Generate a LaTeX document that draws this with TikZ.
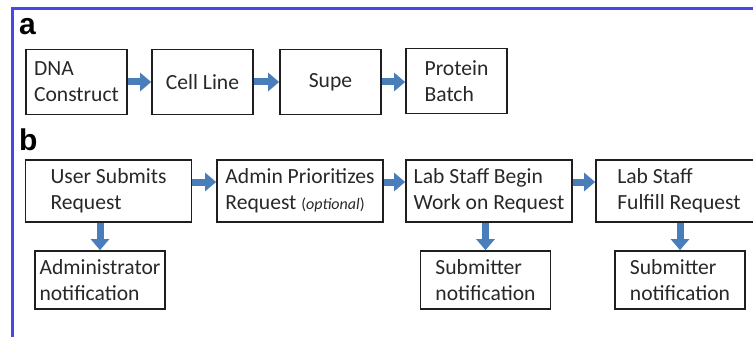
\documentclass[tikz,border=0pt]{standalone}
\usepackage{fontspec}
\setmainfont{Carlito}
\newfontfamily\panelfont{Liberation Sans}
\usetikzlibrary{arrows.meta}
\definecolor{framecol}{RGB}{72,72,232}
\definecolor{arrowcol}{RGB}{74,126,187}
\definecolor{inkcol}{RGB}{40,40,40}
\begin{document}
\begin{tikzpicture}[x=1pt,y=-1pt,
  box/.style={draw=black!88,line width=1.7pt,text=inkcol,align=left,inner sep=2pt,
    font=\fontsize{21.6}{26}\selectfont},
  stepa/.style={box,minimum width=101pt,minimum height=65pt},
  stepb/.style={box,minimum width=166pt,minimum height=62pt},
  notebox/.style={box,minimum width=130pt,minimum height=58pt},
  panel/.style={anchor=base west,inner sep=0pt,font=\panelfont\bfseries\fontsize{30}{30}\selectfont},
  flow/.style={draw=arrowcol,line width=7pt,-{Triangle[length=11pt,width=18pt]}}]
\path[use as bounding box] (0,0) rectangle (753,337);
\clip (0,0) rectangle (753,337);
\draw[framecol,line width=3pt] (12,337) -- (12,9) -- (753,9);
\node[panel] (pa) at (19,35) {a};
\node[stepa] (dna) at (76.5,82) {DNA\\Construct};
\node[stepa] (cell) at (202.5,82) {Cell Line};
\node[stepa] (supe) at (330.5,82) {Supe};
\node[stepa] (protein) at (456.5,81) {Protein\\Batch};
\draw[flow] (dna) -- (cell);
\draw[flow] (cell) -- (supe);
\draw[flow] (supe.east) -- (supe.east -| protein.west);
\node[panel] (pb) at (19,150) {b};
\node[stepb] (user) at (108.5,191) {User Submits\\Request};
\node[stepb] (admin) at (300,191) {Admin Prioritizes\\Request {\fontsize{16}{19}\selectfont(\textit{optional})}};
\node[stepb] (begin) at (489,191) {Lab Staff Begin\\Work on Request};
\node[stepb] (fulfill) at (679,191) {Lab Staff\\Fulfill Request};
\node[notebox] (adminnote) at (100,280) {Administrator\\notification};
\node[notebox] (subnote) at (485.5,280) {Submitter\\notification};
\node[notebox] (fillnote) at (680,280) {Submitter\\notification};
\draw[flow] ([yshift=9pt]user.east) -- ([yshift=9pt]admin.west);
\draw[flow] ([yshift=9pt]admin.east) -- ([yshift=9pt]begin.west);
\draw[flow] ([yshift=9pt]begin.east) -- ([yshift=9pt]fulfill.west);
\draw[flow] (adminnote.north |- user.south) -- (adminnote.north);
\draw[flow] (subnote.north |- begin.south) -- (subnote.north);
\draw[flow] (fillnote.north |- fulfill.south) -- (fillnote.north);
\end{tikzpicture}
\end{document}
